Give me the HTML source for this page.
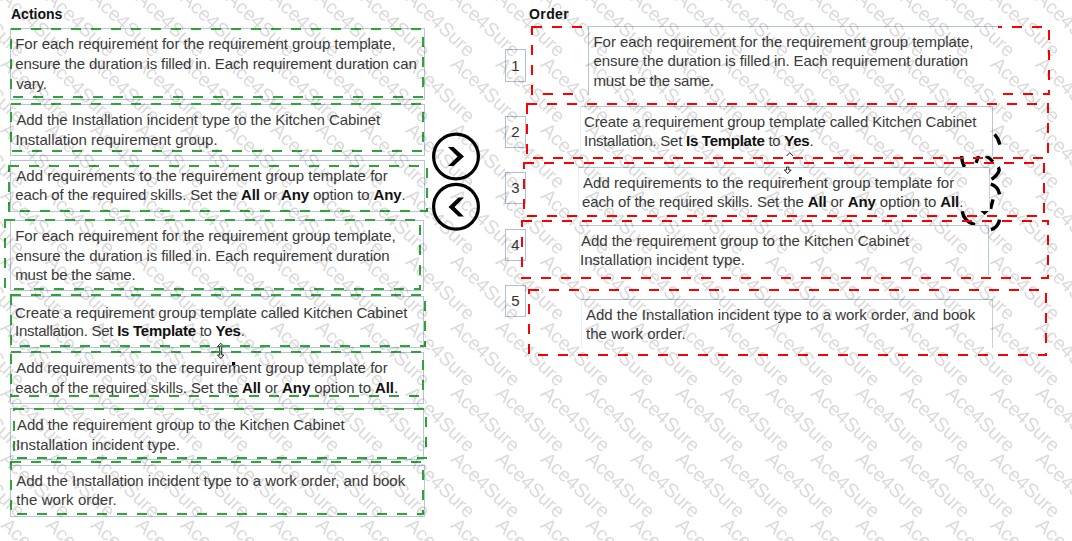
<!DOCTYPE html>
<html><head><meta charset="utf-8">
<style>
html,body{margin:0;padding:0;background:#fff;}
body{width:1072px;height:541px;overflow:hidden;position:relative;font-family:"Liberation Sans",sans-serif;}
.t{position:absolute;font-size:15px;line-height:19.5px;color:#3a3a3a;white-space:nowrap;}
.t b{color:#111;font-weight:bold;}
.h{position:absolute;font-size:14px;font-weight:bold;color:#111;white-space:nowrap;line-height:17px;}
.bx{position:absolute;border:1px solid #b7c5dd;background:#fff;box-sizing:border-box;}
.ab{position:absolute;background:#fff;}
.nb{position:absolute;border:1px solid #aebfdb;box-sizing:border-box;width:21px;font-size:15px;color:#333;text-align:center;background:#fff;padding-top:0px;}
svg{position:absolute;left:0;top:0;}
.wm{mix-blend-mode:multiply;}
</style></head>
<body>
<div class="h" style="left:11px;top:5.6px;">Actions</div>
<div class="h" style="left:529px;top:5.6px;letter-spacing:0.4px;">Order</div>

<!-- left action boxes -->
<div class="bx" style="left:10px;top:28px;width:415px;height:72px;"></div>
<div class="bx" style="left:10px;top:104px;width:415px;height:52px;"></div>
<div class="bx" style="left:10px;top:160px;width:415px;height:52px;"></div>
<div class="bx" style="left:10px;top:220px;width:414px;height:71px;"></div>
<div class="bx" style="left:10px;top:296px;width:414px;height:52px;"></div>
<div class="bx" style="left:10px;top:352px;width:414px;height:52px;"></div>
<div class="bx" style="left:10px;top:408px;width:414px;height:52px;"></div>
<div class="bx" style="left:10px;top:465px;width:415px;height:52px;"></div>

<div class="t" style="left:15.25px;top:34.40px;letter-spacing:-0.041px">For each requirement for the requirement group template,</div>
<div class="t" style="left:15.25px;top:54.00px;letter-spacing:-0.113px">ensure the duration is filled in. Each requirement duration can</div>
<div class="t" style="left:16.25px;top:73.50px;letter-spacing:-0.162px">vary.</div>
<div class="t" style="left:16.40px;top:110.30px;letter-spacing:-0.07px">Add the Installation incident type to the Kitchen Cabinet</div>
<div class="t" style="left:15.40px;top:129.90px;letter-spacing:-0.013px">Installation requirement group.</div>
<div class="t" style="left:16.25px;top:166.25px;letter-spacing:0.024px">Add requirements to the requirement group template for</div>
<div class="t" style="left:15.25px;top:185.20px;letter-spacing:-0.119px">each of the required skills. Set the <b>All</b> or <b>Any</b> option to <b>Any</b>.</div>
<div class="t" style="left:15.25px;top:226.25px;letter-spacing:-0.041px">For each requirement for the requirement group template,</div>
<div class="t" style="left:15.25px;top:245.90px;letter-spacing:-0.103px">ensure the duration is filled in. Each requirement duration</div>
<div class="t" style="left:15.25px;top:265.20px;letter-spacing:-0.188px">must be the same.</div>
<div class="t" style="left:15.10px;top:302.50px;letter-spacing:-0.125px">Create a requirement group template called Kitchen Cabinet</div>
<div class="t" style="left:15.10px;top:321.25px;letter-spacing:-0.26px">Installation. Set <b>Is Template</b> to <b>Yes</b>.</div>
<div class="t" style="left:16.25px;top:358.25px;letter-spacing:0.024px">Add requirements to the requirement group template for</div>
<div class="t" style="left:15.25px;top:377.50px;letter-spacing:-0.094px">each of the required skills. Set the <b>All</b> or <b>Any</b> option to <b>All</b>.</div>
<div class="t" style="left:17.00px;top:415.00px;letter-spacing:-0.053px">Add the requirement group to the Kitchen Cabinet</div>
<div class="t" style="left:16.00px;top:434.50px;letter-spacing:-0.01px">Installation incident type.</div>
<div class="t" style="left:16.25px;top:471.25px;letter-spacing:-0.009px">Add the Installation incident type to a work order, and book</div>
<div class="t" style="left:16.25px;top:490.00px;letter-spacing:0.089px">the work order.</div>

<!-- number boxes -->
<div class="nb" style="left:505px;top:49px;height:33px;line-height:31px;">1</div>
<div class="nb" style="left:505px;top:116px;height:32px;line-height:30px;">2</div>
<div class="nb" style="left:505px;top:172px;height:32px;line-height:30px;">3</div>
<div class="nb" style="left:505px;top:229px;height:32px;line-height:30px;">4</div>
<div class="nb" style="left:505px;top:285px;height:32px;line-height:30px;">5</div>

<!-- SVG layer: circles, red dashed, green dashed -->
<svg width="1072" height="541" viewBox="0 0 1072 541">
  <g fill="none" stroke="#000" stroke-width="3.2">
    <circle cx="456" cy="156.5" r="22.4"/>
    <circle cx="456" cy="206.8" r="22.4"/>
  </g>
  <g fill="#000">
    <polygon points="448,147 453.5,147 464,156.5 453.5,166 448,166 457.5,156.5"/>
    <polygon points="464,197.5 458.5,197.5 448.5,207 458.5,216.5 464,216.5 454.5,207"/>
    <polygon points="980.3,211 988.8,211 984.6,215"/>
    <rect x="232" y="362" width="3.2" height="3"/>
  </g>
  <g fill="#fff" stroke="#222" stroke-width="1">
    <polygon points="220.7,343.2 223.9,346.6 221.7,346.6 221.7,355 223.9,355 220.7,358.6 217.5,355 219.7,355 219.7,346.6 217.5,346.6"/>
  </g>
  <g fill="none" stroke="#000" stroke-width="3.4">
    <path d="M994.6,134.4 Q998.2,138 999.9,144.6"/>
    <path d="M961.6,156 Q961.8,162.5 964.6,167"/>
    <path d="M978.6,156 L976,162.8"/>
    <path d="M985.8,156 Q990,158 992.8,161.8"/>
    <path d="M998.4,167.2 Q1001.5,172.5 991.6,179.4"/>
    <path d="M990.8,184.2 Q997.8,186.2 999.6,194.4"/>
    <path d="M993,199.3 L990.6,208.8"/>
    <path d="M962.2,211.2 Q963.6,221.5 975,224.6"/>
    <path d="M999.6,219.6 Q998.2,227.4 990.9,229.6"/>
  </g>
  <g fill="none" stroke="#ff0000" stroke-width="2" stroke-dasharray="10 10">
    <rect x="532" y="27" width="517" height="67"/>
    <rect x="527" y="104" width="521" height="54"/>
    <rect x="524" y="163" width="520" height="53"/>
    <rect x="522" y="221" width="526" height="57"/>
    <rect x="529" y="290" width="517" height="65"/>
  </g>
</svg>

<!-- answer boxes (opaque) -->
<div class="ab" style="left:583px;top:26px;width:415px;height:69px;"></div>
<div class="ab" style="left:588px;top:26px;width:410px;height:1px;background:#b7c5dd;"></div>
<div class="ab" style="left:588px;top:26px;width:1px;height:69px;background:#b7c5dd;"></div>
<div class="ab" style="left:580px;top:106px;width:413px;height:50px;border-top:1px solid #b7c5dd;border-left:1px solid #ebf0f6;border-right:1px solid #b7c5dd;box-sizing:border-box;"></div>
<div class="ab" style="left:578px;top:167px;width:412px;height:44px;border-top:1px solid #b7c5dd;border-left:1px solid #ebf0f6;border-right:1px solid #c3cfe3;box-sizing:border-box;"></div>
<div class="ab" style="left:579px;top:225px;width:410px;height:50px;border-top:1px solid #b7c5dd;border-left:1px solid #ebf0f6;border-right:1px solid #b7c5dd;box-sizing:border-box;"></div>
<div class="ab" style="left:581px;top:299px;width:412px;height:49px;border-top:1px solid #aebfd8;border-left:1px solid #ebf0f6;border-right:1px solid #c3cfe3;box-sizing:border-box;"></div>

<div class="t" style="left:593.50px;top:32.00px;letter-spacing:-0.05px">For each requirement for the requirement group template,</div>
<div class="t" style="left:593.50px;top:51.25px;letter-spacing:-0.099px">ensure the duration is filled in. Each requirement duration</div>
<div class="t" style="left:593.50px;top:70.75px;letter-spacing:-0.188px">must be the same.</div>
<div class="t" style="left:584.00px;top:111.90px;letter-spacing:-0.123px">Create a requirement group template called Kitchen Cabinet</div>
<div class="t" style="left:584.00px;top:131.25px;letter-spacing:-0.264px">Installation. Set <b>Is Template</b> to <b>Yes</b>.</div>
<div class="t" style="left:583.00px;top:173.00px;letter-spacing:0.019px">Add requirements to the requirement group template for</div>
<div class="t" style="left:582.00px;top:192.00px;letter-spacing:-0.119px">each of the required skills. Set the <b>All</b> or <b>Any</b> option to <b>All</b>.</div>
<div class="t" style="left:581.00px;top:231.25px;letter-spacing:-0.043px">Add the requirement group to the Kitchen Cabinet</div>
<div class="t" style="left:580.00px;top:250.00px;letter-spacing:0.029px">Installation incident type.</div>
<div class="t" style="left:586.00px;top:305.00px;letter-spacing:-0.004px">Add the Installation incident type to a work order, and book</div>
<div class="t" style="left:586.00px;top:324.00px;letter-spacing:0.036px">the work order.</div>

<!-- green dashed overlays -->
<svg width="1072" height="541" viewBox="0 0 1072 541">
  <g fill="#fff" stroke="#222" stroke-width="1">
    <polyline fill="none" points="786.6,156 789.8,152.6 793,156"/>
    <polygon points="786.6,167 786.6,170 784.3,170 787.7,173.6 791.1,170 788.8,170 788.8,167"/>
  </g>
  <rect x="799" y="177.3" width="3" height="2.5" fill="#000"/>
  <g fill="none" stroke="#2ea535" stroke-width="2" stroke-dasharray="10 10">
    <rect x="11" y="29" width="412" height="68"/>
    <rect x="11" y="104" width="412" height="47"/>
    <rect x="9" y="166" width="418" height="45"/>
    <rect x="5" y="220" width="415" height="69"/>
    <rect x="11" y="295" width="414" height="51"/>
    <rect x="11" y="352" width="412" height="44"/>
    <rect x="14" y="409" width="412" height="49"/>
    <rect x="11" y="462" width="412" height="52"/>
  </g>
</svg>
<!--WM-->
<svg class="wm" width="1072" height="541" viewBox="0 0 1072 541"><defs><text id="w" x="0" y="16.51" transform="rotate(43)" font-family="Liberation Sans" font-size="19.5" fill="#dadada">Ace4Sure</text></defs><use href="#w" x="-34" y="-78.3"/><use href="#w" x="11" y="-78.3"/><use href="#w" x="56" y="-78.3"/><use href="#w" x="101" y="-78.3"/><use href="#w" x="146" y="-78.3"/><use href="#w" x="191" y="-78.3"/><use href="#w" x="236" y="-78.3"/><use href="#w" x="281" y="-78.3"/><use href="#w" x="326" y="-78.3"/><use href="#w" x="371" y="-78.3"/><use href="#w" x="416" y="-78.3"/><use href="#w" x="461" y="-78.3"/><use href="#w" x="506" y="-78.3"/><use href="#w" x="551" y="-78.3"/><use href="#w" x="596" y="-78.3"/><use href="#w" x="641" y="-78.3"/><use href="#w" x="686" y="-78.3"/><use href="#w" x="731" y="-78.3"/><use href="#w" x="776" y="-78.3"/><use href="#w" x="821" y="-78.3"/><use href="#w" x="866" y="-78.3"/><use href="#w" x="911" y="-78.3"/><use href="#w" x="956" y="-78.3"/><use href="#w" x="1001" y="-78.3"/><use href="#w" x="1046" y="-78.3"/><use href="#w" x="-34" y="-12.4"/><use href="#w" x="11" y="-12.4"/><use href="#w" x="56" y="-12.4"/><use href="#w" x="101" y="-12.4"/><use href="#w" x="146" y="-12.4"/><use href="#w" x="191" y="-12.4"/><use href="#w" x="236" y="-12.4"/><use href="#w" x="281" y="-12.4"/><use href="#w" x="326" y="-12.4"/><use href="#w" x="371" y="-12.4"/><use href="#w" x="416" y="-12.4"/><use href="#w" x="461" y="-12.4"/><use href="#w" x="506" y="-12.4"/><use href="#w" x="551" y="-12.4"/><use href="#w" x="596" y="-12.4"/><use href="#w" x="641" y="-12.4"/><use href="#w" x="686" y="-12.4"/><use href="#w" x="731" y="-12.4"/><use href="#w" x="776" y="-12.4"/><use href="#w" x="821" y="-12.4"/><use href="#w" x="866" y="-12.4"/><use href="#w" x="911" y="-12.4"/><use href="#w" x="956" y="-12.4"/><use href="#w" x="1001" y="-12.4"/><use href="#w" x="1046" y="-12.4"/><use href="#w" x="-34" y="53.4"/><use href="#w" x="11" y="53.4"/><use href="#w" x="56" y="53.4"/><use href="#w" x="101" y="53.4"/><use href="#w" x="146" y="53.4"/><use href="#w" x="191" y="53.4"/><use href="#w" x="236" y="53.4"/><use href="#w" x="281" y="53.4"/><use href="#w" x="326" y="53.4"/><use href="#w" x="371" y="53.4"/><use href="#w" x="416" y="53.4"/><use href="#w" x="461" y="53.4"/><use href="#w" x="506" y="53.4"/><use href="#w" x="551" y="53.4"/><use href="#w" x="596" y="53.4"/><use href="#w" x="641" y="53.4"/><use href="#w" x="686" y="53.4"/><use href="#w" x="731" y="53.4"/><use href="#w" x="776" y="53.4"/><use href="#w" x="821" y="53.4"/><use href="#w" x="866" y="53.4"/><use href="#w" x="911" y="53.4"/><use href="#w" x="956" y="53.4"/><use href="#w" x="1001" y="53.4"/><use href="#w" x="1046" y="53.4"/><use href="#w" x="-34" y="119.2"/><use href="#w" x="11" y="119.2"/><use href="#w" x="56" y="119.2"/><use href="#w" x="101" y="119.2"/><use href="#w" x="146" y="119.2"/><use href="#w" x="191" y="119.2"/><use href="#w" x="236" y="119.2"/><use href="#w" x="281" y="119.2"/><use href="#w" x="326" y="119.2"/><use href="#w" x="371" y="119.2"/><use href="#w" x="416" y="119.2"/><use href="#w" x="461" y="119.2"/><use href="#w" x="506" y="119.2"/><use href="#w" x="551" y="119.2"/><use href="#w" x="596" y="119.2"/><use href="#w" x="641" y="119.2"/><use href="#w" x="686" y="119.2"/><use href="#w" x="731" y="119.2"/><use href="#w" x="776" y="119.2"/><use href="#w" x="821" y="119.2"/><use href="#w" x="866" y="119.2"/><use href="#w" x="911" y="119.2"/><use href="#w" x="956" y="119.2"/><use href="#w" x="1001" y="119.2"/><use href="#w" x="1046" y="119.2"/><use href="#w" x="-34" y="185.1"/><use href="#w" x="11" y="185.1"/><use href="#w" x="56" y="185.1"/><use href="#w" x="101" y="185.1"/><use href="#w" x="146" y="185.1"/><use href="#w" x="191" y="185.1"/><use href="#w" x="236" y="185.1"/><use href="#w" x="281" y="185.1"/><use href="#w" x="326" y="185.1"/><use href="#w" x="371" y="185.1"/><use href="#w" x="416" y="185.1"/><use href="#w" x="461" y="185.1"/><use href="#w" x="506" y="185.1"/><use href="#w" x="551" y="185.1"/><use href="#w" x="596" y="185.1"/><use href="#w" x="641" y="185.1"/><use href="#w" x="686" y="185.1"/><use href="#w" x="731" y="185.1"/><use href="#w" x="776" y="185.1"/><use href="#w" x="821" y="185.1"/><use href="#w" x="866" y="185.1"/><use href="#w" x="911" y="185.1"/><use href="#w" x="956" y="185.1"/><use href="#w" x="1001" y="185.1"/><use href="#w" x="1046" y="185.1"/><use href="#w" x="-34" y="250.9"/><use href="#w" x="11" y="250.9"/><use href="#w" x="56" y="250.9"/><use href="#w" x="101" y="250.9"/><use href="#w" x="146" y="250.9"/><use href="#w" x="191" y="250.9"/><use href="#w" x="236" y="250.9"/><use href="#w" x="281" y="250.9"/><use href="#w" x="326" y="250.9"/><use href="#w" x="371" y="250.9"/><use href="#w" x="416" y="250.9"/><use href="#w" x="461" y="250.9"/><use href="#w" x="506" y="250.9"/><use href="#w" x="551" y="250.9"/><use href="#w" x="596" y="250.9"/><use href="#w" x="641" y="250.9"/><use href="#w" x="686" y="250.9"/><use href="#w" x="731" y="250.9"/><use href="#w" x="776" y="250.9"/><use href="#w" x="821" y="250.9"/><use href="#w" x="866" y="250.9"/><use href="#w" x="911" y="250.9"/><use href="#w" x="956" y="250.9"/><use href="#w" x="1001" y="250.9"/><use href="#w" x="1046" y="250.9"/><use href="#w" x="-34" y="316.8"/><use href="#w" x="11" y="316.8"/><use href="#w" x="56" y="316.8"/><use href="#w" x="101" y="316.8"/><use href="#w" x="146" y="316.8"/><use href="#w" x="191" y="316.8"/><use href="#w" x="236" y="316.8"/><use href="#w" x="281" y="316.8"/><use href="#w" x="326" y="316.8"/><use href="#w" x="371" y="316.8"/><use href="#w" x="416" y="316.8"/><use href="#w" x="461" y="316.8"/><use href="#w" x="506" y="316.8"/><use href="#w" x="551" y="316.8"/><use href="#w" x="596" y="316.8"/><use href="#w" x="641" y="316.8"/><use href="#w" x="686" y="316.8"/><use href="#w" x="731" y="316.8"/><use href="#w" x="776" y="316.8"/><use href="#w" x="821" y="316.8"/><use href="#w" x="866" y="316.8"/><use href="#w" x="911" y="316.8"/><use href="#w" x="956" y="316.8"/><use href="#w" x="1001" y="316.8"/><use href="#w" x="1046" y="316.8"/><use href="#w" x="-34" y="382.6"/><use href="#w" x="11" y="382.6"/><use href="#w" x="56" y="382.6"/><use href="#w" x="101" y="382.6"/><use href="#w" x="146" y="382.6"/><use href="#w" x="191" y="382.6"/><use href="#w" x="236" y="382.6"/><use href="#w" x="281" y="382.6"/><use href="#w" x="326" y="382.6"/><use href="#w" x="371" y="382.6"/><use href="#w" x="416" y="382.6"/><use href="#w" x="461" y="382.6"/><use href="#w" x="506" y="382.6"/><use href="#w" x="551" y="382.6"/><use href="#w" x="596" y="382.6"/><use href="#w" x="641" y="382.6"/><use href="#w" x="686" y="382.6"/><use href="#w" x="731" y="382.6"/><use href="#w" x="776" y="382.6"/><use href="#w" x="821" y="382.6"/><use href="#w" x="866" y="382.6"/><use href="#w" x="911" y="382.6"/><use href="#w" x="956" y="382.6"/><use href="#w" x="1001" y="382.6"/><use href="#w" x="1046" y="382.6"/><use href="#w" x="-34" y="448.4"/><use href="#w" x="11" y="448.4"/><use href="#w" x="56" y="448.4"/><use href="#w" x="101" y="448.4"/><use href="#w" x="146" y="448.4"/><use href="#w" x="191" y="448.4"/><use href="#w" x="236" y="448.4"/><use href="#w" x="281" y="448.4"/><use href="#w" x="326" y="448.4"/><use href="#w" x="371" y="448.4"/><use href="#w" x="416" y="448.4"/><use href="#w" x="461" y="448.4"/><use href="#w" x="506" y="448.4"/><use href="#w" x="551" y="448.4"/><use href="#w" x="596" y="448.4"/><use href="#w" x="641" y="448.4"/><use href="#w" x="686" y="448.4"/><use href="#w" x="731" y="448.4"/><use href="#w" x="776" y="448.4"/><use href="#w" x="821" y="448.4"/><use href="#w" x="866" y="448.4"/><use href="#w" x="911" y="448.4"/><use href="#w" x="956" y="448.4"/><use href="#w" x="1001" y="448.4"/><use href="#w" x="1046" y="448.4"/><use href="#w" x="-34" y="514.3"/><use href="#w" x="11" y="514.3"/><use href="#w" x="56" y="514.3"/><use href="#w" x="101" y="514.3"/><use href="#w" x="146" y="514.3"/><use href="#w" x="191" y="514.3"/><use href="#w" x="236" y="514.3"/><use href="#w" x="281" y="514.3"/><use href="#w" x="326" y="514.3"/><use href="#w" x="371" y="514.3"/><use href="#w" x="416" y="514.3"/><use href="#w" x="461" y="514.3"/><use href="#w" x="506" y="514.3"/><use href="#w" x="551" y="514.3"/><use href="#w" x="596" y="514.3"/><use href="#w" x="641" y="514.3"/><use href="#w" x="686" y="514.3"/><use href="#w" x="731" y="514.3"/><use href="#w" x="776" y="514.3"/><use href="#w" x="821" y="514.3"/><use href="#w" x="866" y="514.3"/><use href="#w" x="911" y="514.3"/><use href="#w" x="956" y="514.3"/><use href="#w" x="1001" y="514.3"/><use href="#w" x="1046" y="514.3"/></svg>
</body></html>
